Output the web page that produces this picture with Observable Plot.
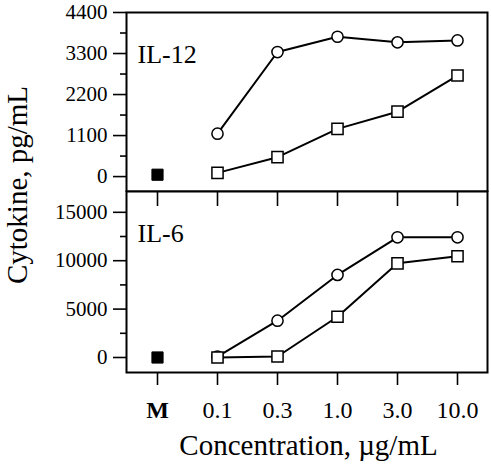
<!DOCTYPE html>
<html>
<head>
<meta charset="utf-8">
<script src="https://cdn.jsdelivr.net/npm/d3@7"></script>
<script src="https://cdn.jsdelivr.net/npm/@observablehq/plot@0.6"></script>
<style>
  html, body { margin: 0; padding: 0; background: #fff; }
  #chart { position: relative; width: 491px; height: 475px; font-family: "Liberation Serif", "Times New Roman", serif; }
  #chart > svg { position: absolute; left: 0; background: transparent; }
</style>
</head>
<body>
<div id="chart"></div>
<script>
// ---- data ----
const concentrations = ["M", "0.1", "0.3", "1.0", "3.0", "10.0"];
const doses = ["0.1", "0.3", "1.0", "3.0", "10.0"];

const il12Circle = [1150, 3340, 3750, 3600, 3650];
const il12Square = [100, 520, 1280, 1740, 2710];
const il12Medium = [50];

const il6Circle = [100, 3800, 8530, 12420, 12420];
const il6Square = [0, 100, 4210, 9730, 10460];
const il6Medium = [0];

const il12Ticks = [0, 1100, 2200, 3300, 4400];
const il12Minor = [550, 1650, 2750, 3850];
const il6Ticks = [0, 5000, 10000, 15000];
const il6Minor = [2500, 7500, 12500];

const il12Domain = [-400, 4400];
const il6Domain = [-1550, 17150];

const panelLabels = ["IL-12", "IL-6"];
const xTitle = "Concentration, µg/mL";
const yTitle = "Cytokine, pg/mL";

// ---- helpers ----
const font = '"Liberation Serif", "Times New Roman", serif';
const toRows = (vals) => vals.map((v, i) => ({x: doses[i], y: v}));

function panelMarks(circles, squares, medium, label, minor, ticks) {
  return [
    Plot.axisY({ticks: ticks, tickSize: 13, tickPadding: 6, fontSize: 21, strokeWidth: 1.6, label: null, tickFormat: d => String(d)}),
    Plot.axisY({ticks: minor, tickSize: 6, text: null, label: null, strokeWidth: 1.6}),
    Plot.line(toRows(circles), {x: "x", y: "y", stroke: "black", strokeWidth: 2}),
    Plot.line(toRows(squares), {x: "x", y: "y", stroke: "black", strokeWidth: 2}),
    Plot.dot(toRows(circles), {x: "x", y: "y", r: 5.6, fill: "white", stroke: "black", strokeWidth: 1.5}),
    Plot.dot(toRows(squares), {x: "x", y: "y", symbol: "square", r: 6.3, fill: "white", stroke: "black", strokeWidth: 1.5}),
    Plot.dot(medium.map(v => ({x: "M", y: v})), {x: "x", y: "y", symbol: "square", r: 6.3, fill: "black", stroke: "black", strokeWidth: 1}),
    Plot.text([label], {frameAnchor: "top-left", text: d => d, dx: 11, dy: 32, lineAnchor: "top", fontSize: 26, fill: "black"}),
    Plot.frame({stroke: "black", strokeWidth: 2})
  ];
}

const root = document.getElementById("chart");

// ---- top panel: IL-12 ----
const topPanel = Plot.plot({
  width: 491, height: 192,
  marginTop: 12, marginBottom: 1, marginLeft: 126, marginRight: 4,
  style: {fontFamily: font, background: "transparent", color: "black"},
  x: {type: "point", domain: concentrations, padding: 0.5, axis: null},
  y: {domain: il12Domain},
  marks: panelMarks(il12Circle, il12Square, il12Medium, panelLabels[0], il12Minor, il12Ticks)
});
topPanel.style.top = "0px";
root.appendChild(topPanel);

// ---- bottom panel: IL-6 ----
const bottomPanel = Plot.plot({
  width: 491, height: 285,
  marginTop: 1, marginBottom: 103, marginLeft: 126, marginRight: 4,
  style: {fontFamily: font, background: "transparent", color: "black"},
  x: {type: "point", domain: concentrations, padding: 0.5},
  y: {domain: il6Domain},
  marks: [
    ...panelMarks(il6Circle, il6Square, il6Medium, panelLabels[1], il6Minor, il6Ticks),
    Plot.axisX({anchor: "bottom", tickSize: 13, tickPadding: 15, fontSize: 24, strokeWidth: 1.6, label: null,
      ticks: doses}),
    Plot.axisX({anchor: "bottom", tickSize: 13, tickPadding: 15, fontSize: 24, fontWeight: "bold", strokeWidth: 1.6, label: null,
      ticks: ["M"]}),
    Plot.axisX({anchor: "top", tickSize: 14, dy: 14, text: null, strokeWidth: 1.6, label: null}),
    Plot.text([xTitle], {frameAnchor: "bottom", text: d => d, dx: 1.5, dy: 82, fontSize: 29, fill: "black"})
  ]
});
bottomPanel.style.top = "190px";
root.appendChild(bottomPanel);

// ---- shared y-axis title ----
const ysvg = d3.create("svg").attr("width", 40).attr("height", 475).style("top", "0px");
ysvg.append("text")
  .attr("transform", "translate(27,185) rotate(-90)")
  .attr("text-anchor", "middle")
  .attr("font-family", font)
  .attr("font-size", 29)
  .attr("fill", "black")
  .text(yTitle);
root.appendChild(ysvg.node());
</script>
</body>
</html>
